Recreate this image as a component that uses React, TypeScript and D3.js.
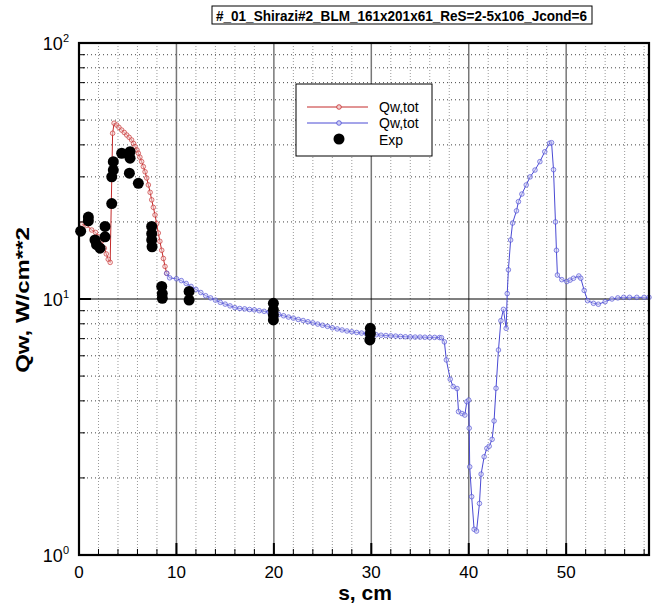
import React from "react";
import * as d3 from "d3";

// ---------- data ----------
const titleText = "#_01_Shirazi#2_BLM_161x201x61_ReS=2-5x106_Jcond=6";
const xTicks = [0, 10, 20, 30, 40, 50];
const xMinorTicks = [2, 4, 6, 8, 12, 14, 16, 18, 22, 24, 26, 28, 32, 34, 36, 38, 42, 44, 46, 48, 52, 54, 56, 58];
const yTicks = [1, 10, 100];
const yTickExp = ["0", "1", "2"];
const yMinorTicks = [2, 3, 4, 5, 6, 7, 8, 9, 20, 30, 40, 50, 60, 70, 80, 90];
const seriesNames = ["Qw,tot", "Qw,tot", "Exp"];

const redS = [0.3, 0.8, 1.3, 1.7, 2.0, 2.3, 2.6, 2.8, 3.0, 3.2, 3.45, 3.6, 3.87, 4.1, 4.38, 4.65, 4.9, 5.15, 5.4, 5.6, 5.75, 5.95, 6.09, 6.25, 6.43, 6.6, 6.78, 6.95, 7.12, 7.3, 7.46, 7.63, 7.8, 7.97, 8.14, 8.3, 8.49, 8.66, 8.83, 9.0];
const redQ = [19.6, 19.4, 18.6, 18.2, 17.5, 16.8, 15.8, 15.0, 14.3, 13.9, 44.4, 48.6, 47.8, 46.8, 45.7, 44.7, 43.7, 42.8, 41.8, 40.5, 39.4, 38.2, 37.1, 35.8, 34.4, 32.9, 31.4, 29.7, 27.9, 26.1, 24.4, 22.8, 21.3, 19.7, 18.1, 16.8, 15.5, 14.4, 13.4, 12.6];

const blueS = [9.0, 9.3, 10.0, 10.5, 11.0, 11.5, 12.0, 12.5, 13.0, 13.5, 14.0, 14.5, 15.0, 15.5, 16.0, 16.5, 17.0, 17.5, 18.0, 18.5, 19.0, 19.5, 20.0, 20.5, 21.0, 21.5, 22.0, 22.5, 23.0, 23.5, 24.0, 24.5, 25.0, 25.5, 26.0, 26.5, 27.0, 27.5, 28.0, 28.5, 29.0, 29.5, 30.0, 30.5, 31.0, 31.5, 32.0, 32.5, 33.0, 33.5, 34.0, 34.5, 35.0, 35.5, 36.0, 36.5, 37.0, 37.2,
  37.5, 37.7, 38.1, 38.4, 38.8, 38.95, 39.3, 39.6, 39.8, 40.0, 40.05, 40.1, 40.3, 40.55, 40.8, 41.1, 41.27, 41.58, 41.86, 42.1, 42.4, 42.6, 42.8, 43.05, 43.3, 43.56, 43.84, 43.95, 44.07, 44.3, 44.5, 44.9, 45.1, 45.45, 45.9, 46.3, 46.8, 47.3, 47.8, 48.3, 48.5, 48.7, 48.9, 49.0, 49.1, 49.55, 50.06, 50.4, 50.75, 51.3, 51.5, 51.85, 52.2, 52.8, 53.3, 54.0, 54.7, 55.3, 55.9, 56.5, 57.25, 58.0, 58.5];
const blueQ = [12.6, 12.1, 12.0, 11.8, 11.5, 11.2, 10.9, 10.6, 10.3, 10.1, 9.9, 9.7, 9.55, 9.4, 9.25, 9.18, 9.15, 9.1, 9.07, 9.0, 8.95, 8.88, 8.8, 8.7, 8.6, 8.5, 8.42, 8.32, 8.24, 8.15, 8.07, 7.98, 7.9, 7.82, 7.72, 7.64, 7.57, 7.5, 7.45, 7.4, 7.36, 7.32, 7.28, 7.25, 7.22, 7.2, 7.18, 7.16, 7.14, 7.12, 7.11, 7.1, 7.1, 7.09, 7.08, 7.08, 7.07, 7.06,
  6.8, 5.78, 4.86, 4.55, 4.47, 3.63, 3.57, 3.52, 3.97, 4.03, 3.13, 2.21, 1.69, 1.26, 1.24, 1.59, 2.07, 2.42, 2.61, 2.66, 2.83, 3.34, 4.48, 6.32, 8.23, 9.11, 7.68, 10.5, 13.0, 17.0, 19.8, 22.1, 24.0, 25.7, 27.9, 30.0, 31.9, 34.4, 37.6, 40.6, 40.8, 32.0, 20.0, 15.5, 12.4, 11.9, 11.7, 11.85, 12.05, 12.3, 12.05, 10.8, 9.85, 9.62, 9.54, 9.76, 10.0, 10.1, 10.15, 10.15, 10.15, 10.15, 10.15];

const expS = [0.17, 0.96, 0.96, 1.64, 1.8, 2.16, 2.67, 2.67, 3.36, 3.36, 3.52, 3.52, 4.38, 5.24, 5.24, 5.17, 6.09, 7.46, 7.46, 7.46, 7.5, 8.49, 8.55, 8.55, 11.3, 11.3, 19.95, 19.95, 19.95, 19.95, 29.9, 29.9, 29.85];
const expQ = [18.4, 20.9, 20.2, 17.0, 16.3, 15.8, 19.2, 17.5, 23.6, 30.0, 31.9, 34.4, 37.1, 37.6, 35.5, 31.0, 28.3, 19.2, 18.0, 17.0, 16.0, 11.2, 10.5, 10.06, 10.7, 9.9, 9.62, 9.06, 8.66, 8.28, 7.68, 7.34, 6.92];

// ---------- layout ----------
const W = 652, H = 605;
const L = 79, R = 649, T = 43, B = 555;
const RED = "#c42a2a";
const BLUE = "#4a4ad4";

export default function App() {
  const x = d3.scaleLinear().domain([0, 58.5]).range([L, R]);
  const y = d3.scaleLog().domain([1, 100]).range([B, T]);
  const line = d3.line<[number, number]>().x(d => x(d[0])).y(d => y(d[1]));
  const redPts: [number, number][] = redS.map((s, i) => [s, redQ[i]]);
  const bluePts: [number, number][] = blueS.map((s, i) => [s, blueQ[i]]);
  const font = "Arial, 'Liberation Sans', sans-serif";

  return (
    <svg width={W} height={H} style={{ position: "absolute", left: 0, top: 0, background: "#fff" }} fontFamily={font}>
      <rect x={0} y={0} width={W} height={H} fill="#fff" />
      {/* title */}
      <rect x={212} y={6} width={380} height={18} fill="#fff" stroke="#000" strokeWidth={1} />
      <text x={216} y={21} fontSize={14} fontWeight="bold" textLength={371} lengthAdjust="spacingAndGlyphs">{titleText}</text>

      {/* minor grid */}
      {xMinorTicks.map(t => (
        <line key={"gx" + t} x1={x(t)} x2={x(t)} y1={T} y2={B} stroke="#999" strokeWidth={1} strokeDasharray="1,2" />
      ))}
      {yMinorTicks.map(t => (
        <line key={"gy" + t} x1={L} x2={R} y1={y(t)} y2={y(t)} stroke="#444" strokeWidth={1} strokeDasharray="1,3" />
      ))}
      {/* major grid */}
      {xTicks.filter(t => t > 0).map(t => (
        <line key={"Gx" + t} x1={x(t)} x2={x(t)} y1={T} y2={B} stroke="#777" strokeWidth={1.5} />
      ))}
      <line x1={L} x2={R} y1={y(10)} y2={y(10)} stroke="#000" strokeWidth={1.2} />

      {/* red series */}
      <path d={line(redPts) || ""} fill="none" stroke={RED} strokeWidth={1} />
      {redPts.map((p, i) => (
        <circle key={"r" + i} cx={x(p[0])} cy={y(p[1])} r={2.3} fill="#f4d0d0" fillOpacity={0.5} stroke={RED} strokeWidth={0.8} strokeOpacity={0.8} />
      ))}
      {/* blue series */}
      <path d={line(bluePts) || ""} fill="none" stroke={BLUE} strokeWidth={1} />
      {bluePts.map((p, i) => (
        <circle key={"b" + i} cx={x(p[0])} cy={y(p[1])} r={2.3} fill="#d0d0f4" fillOpacity={0.5} stroke={BLUE} strokeWidth={0.8} strokeOpacity={0.8} />
      ))}
      {/* exp */}
      {expS.map((s, i) => (
        <circle key={"e" + i} cx={x(s)} cy={y(expQ[i])} r={5.5} fill="#000" />
      ))}

      {/* ticks */}
      {xTicks.map(t => (
        <line key={"tx" + t} x1={x(t)} x2={x(t)} y1={B} y2={B - 12} stroke="#000" strokeWidth={2} />
      ))}
      {xMinorTicks.map(t => (
        <line key={"mtx" + t} x1={x(t)} x2={x(t)} y1={B} y2={B - 6} stroke="#000" strokeWidth={1} />
      ))}
      {yMinorTicks.map(t => (
        <line key={"mty" + t} x1={L} x2={L + 6} y1={y(t)} y2={y(t)} stroke="#000" strokeWidth={1} />
      ))}
      {yTicks.map(t => (
        <line key={"ty" + t} x1={L} x2={L + 12} y1={y(t)} y2={y(t)} stroke="#000" strokeWidth={2} />
      ))}

      {/* frame */}
      <rect x={L} y={T} width={R - L} height={B - T} fill="none" stroke="#000" strokeWidth={2.2} />

      {/* tick labels */}
      {xTicks.map(t => (
        <text key={"lx" + t} x={x(t)} y={578} textAnchor="middle" fontSize={17}>{t}</text>
      ))}
      {yTicks.map((t, i) => (
        <text key={"ly" + t} x={69} y={y(t) + 7} textAnchor="end" fontSize={18}>
          10<tspan fontSize={11} dy={-8}>{yTickExp[i]}</tspan>
        </text>
      ))}

      {/* axis titles */}
      <text x={365} y={600} textAnchor="middle" fontSize={21} fontWeight="bold">s, cm</text>
      <text transform="translate(29,300) rotate(-90) scale(1,0.8)" textAnchor="middle" fontSize={24} fontWeight="bold">Qw, W/cm**2</text>

      {/* legend */}
      <rect x={296} y={84} width={136} height={72} fill="#fff" stroke="#000" strokeWidth={1} />
      <line x1={307} x2={368} y1={107} y2={107} stroke={RED} strokeWidth={1} />
      <circle cx={339} cy={107} r={2.3} fill="#f4d0d0" stroke={RED} strokeWidth={0.8} />
      <text x={379} y={112} fontSize={14}>{seriesNames[0]}</text>
      <line x1={307} x2={368} y1={123} y2={123} stroke={BLUE} strokeWidth={1} />
      <circle cx={339} cy={123} r={2.3} fill="#d0d0f4" stroke={BLUE} strokeWidth={0.8} />
      <text x={379} y={128} fontSize={14}>{seriesNames[1]}</text>
      <circle cx={339} cy={139} r={5.5} fill="#000" />
      <text x={379} y={145} fontSize={14}>{seriesNames[2]}</text>
    </svg>
  );
}
